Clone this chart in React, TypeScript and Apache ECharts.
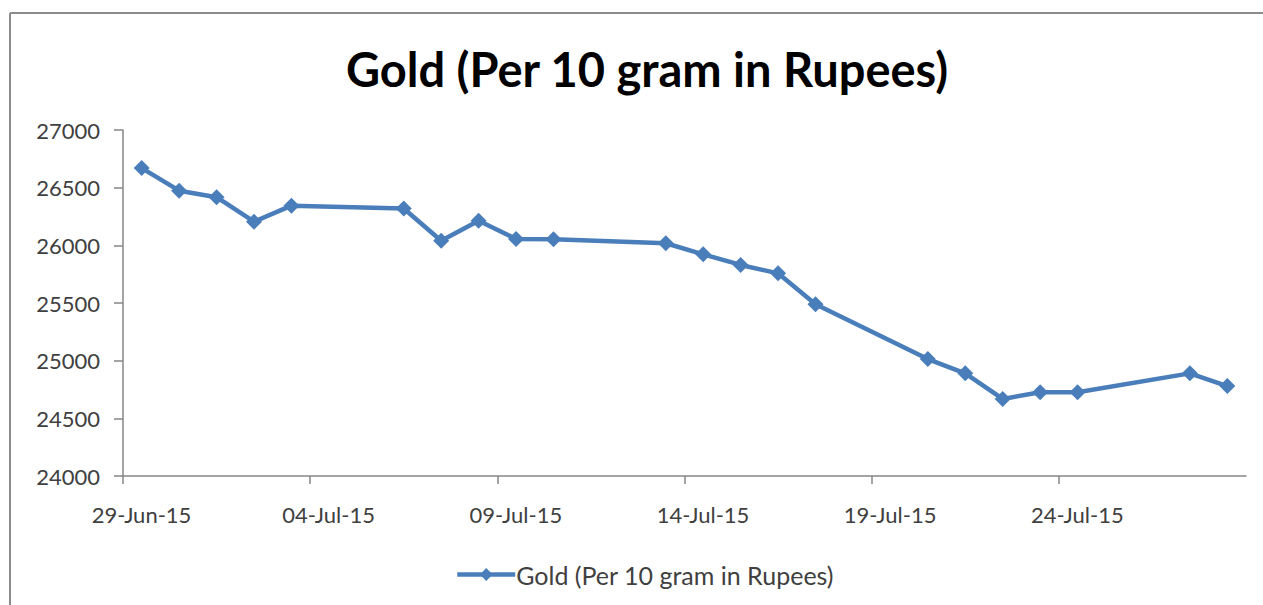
import React, { useEffect, useRef } from 'react';
import * as echarts from 'echarts';

const axisStart = '2015-06-29';
const axisEnd = '2015-07-29';
const dates = [
  '2015-06-29', '2015-06-30', '2015-07-01', '2015-07-02', '2015-07-03',
  '2015-07-06', '2015-07-07', '2015-07-08', '2015-07-09', '2015-07-10',
  '2015-07-13', '2015-07-14', '2015-07-15', '2015-07-16', '2015-07-17',
  '2015-07-20', '2015-07-21', '2015-07-22', '2015-07-23', '2015-07-24',
  '2015-07-27', '2015-07-28',
];
const prices = [
  26670, 26474, 26417, 26205, 26344,
  26320, 26040, 26214, 26055, 26052,
  26018, 25922, 25830, 25757, 25489,
  25014, 24890, 24668, 24726, 24726,
  24890, 24780,
];
const seriesName = 'Gold (Per 10 gram in Rupees)';
const titleText = 'Gold (Per 10 gram in Rupees)';
const yMin = 24000;
const yMax = 27000;
const yStep = 500;
const xStepDays = 5;

const DAY = 86400000;
const MONTHS = ['Jan', 'Feb', 'Mar', 'Apr', 'May', 'Jun', 'Jul', 'Aug', 'Sep', 'Oct', 'Nov', 'Dec'];
const toUTC = (s: string) => {
  const [y, m, d] = s.split('-').map(Number);
  return Date.UTC(y, m - 1, d);
};
const dayIndex = (s: string) => Math.round((toUTC(s) - toUTC(axisStart)) / DAY);
const fmtDay = (v: number) => {
  const t = new Date(toUTC(axisStart) + Math.round(v) * DAY);
  const dd = String(t.getUTCDate()).padStart(2, '0');
  const yy = String(t.getUTCFullYear()).slice(2);
  return `${dd}-${MONTHS[t.getUTCMonth()]}-${yy}`;
};

export default function App() {
  const ref = useRef<HTMLDivElement>(null);
  useEffect(() => {
    if (!ref.current) return;
    const chart = echarts.init(ref.current, undefined, { renderer: 'svg' });
    const font = 'Lato, "Open Sans", sans-serif';
    const axisColor = '#868686';
    const textColor = '#404040';
    const lineColor = '#4A7EBB';
    chart.setOption({
      animation: false,
      backgroundColor: '#ffffff',
      title: {
        text: titleText,
        left: 642,
        textAlign: 'center',
        top: 40,
        textStyle: { fontFamily: font, fontSize: 47, fontWeight: 'bold', color: '#000000' },
      },
      legend: {
        bottom: 13,
        left: 450,
        itemWidth: 58,
        itemHeight: 16,
        itemGap: 4,
        data: [seriesName],
        lineStyle: { width: 4.5 },
        textStyle: { fontFamily: font, fontSize: 25, color: textColor, padding: [0, 0, 0, -4] },
      },
      grid: { left: 123, right: 17, top: 130, bottom: 129, containLabel: false },
      xAxis: {
        type: 'value',
        min: 0,
        max: dayIndex(axisEnd),
        interval: xStepDays,
        axisLine: { show: true, lineStyle: { color: axisColor, width: 1.5 } },
        axisTick: { show: true, length: 8, lineStyle: { color: axisColor, width: 1.5 } },
        splitLine: { show: false },
        axisLabel: {
          formatter: (v: number) => fmtDay(v),
          showMaxLabel: false,
          fontFamily: font,
          fontSize: 22,
          color: textColor,
          margin: 27,
          padding: [0, 0, 0, 37],
        },
      },
      yAxis: {
        type: 'value',
        min: yMin,
        max: yMax,
        interval: yStep,
        axisLine: { show: true, lineStyle: { color: axisColor, width: 1.5 } },
        axisTick: { show: true, length: 9, lineStyle: { color: axisColor, width: 1.5 } },
        splitLine: { show: false },
        axisLabel: {
          formatter: (v: number) => String(v),
          fontFamily: font,
          fontSize: 22,
          color: textColor,
          margin: 23,
        },
      },
      series: [
        {
          name: seriesName,
          type: 'line',
          data: dates.map((d, i) => [dayIndex(d) + 0.5, prices[i]]),
          symbol: 'diamond',
          symbolSize: 16,
          lineStyle: { color: lineColor, width: 4.5 },
          itemStyle: { color: lineColor },
        },
      ],
      graphic: [
        { type: 'line', shape: { x1: 10, y1: 13, x2: 1263, y2: 13 }, style: { stroke: '#8c8c8c', lineWidth: 2 } },
        { type: 'line', shape: { x1: 10, y1: 13, x2: 10, y2: 605 }, style: { stroke: '#8c8c8c', lineWidth: 2 } },
      ],
    });
    return () => chart.dispose();
  }, []);
  return (
    <div
      ref={ref}
      style={{ position: 'absolute', left: 0, top: 0, width: 1263, height: 605 }}
    />
  );
}
